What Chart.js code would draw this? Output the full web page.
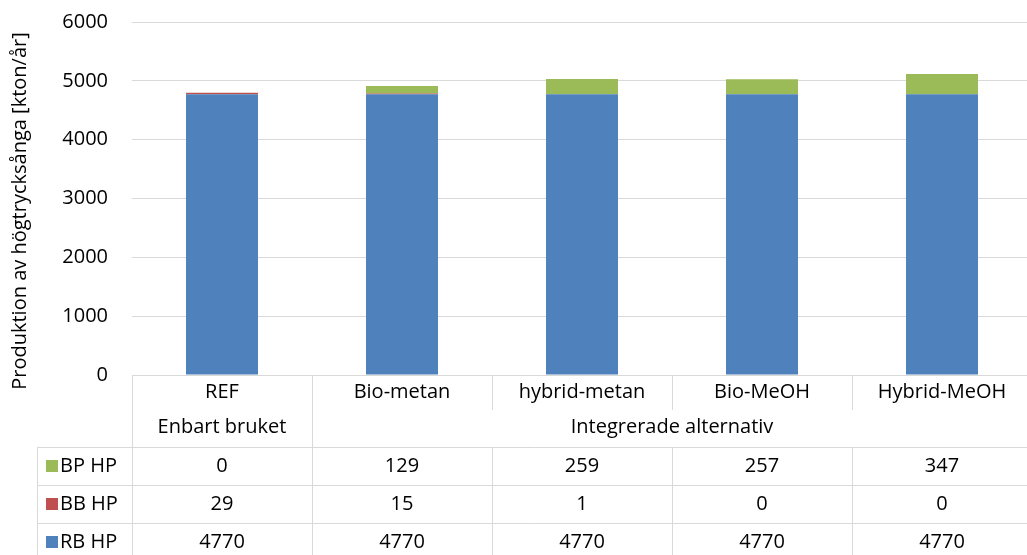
<!DOCTYPE html>
<html>
<head>
<meta charset="utf-8">
<script src="https://cdn.jsdelivr.net/npm/chart.js@4.4.1/dist/chart.umd.min.js"></script>
<style>
  html, body { margin: 0; padding: 0; background: #fff; overflow: hidden; }
  #wrap { width: 1035px; height: 555px; }
</style>
</head>
<body>
<div id="wrap"><canvas id="myChart" width="1035" height="555"></canvas></div>
<script>
// data
const categories = ["REF", "Bio-metan", "hybrid-metan", "Bio-MeOH", "Hybrid-MeOH"];
const groups = [
  { label: "Enbart bruket", from: 0, to: 0 },
  { label: "Integrerade alternativ", from: 1, to: 4 },
];
const rbHp = [4770, 4770, 4770, 4770, 4770];
const bbHp = [29, 15, 1, 0, 0];
const bpHp = [0, 129, 259, 257, 347];
const yTicks = [0, 1000, 2000, 3000, 4000, 5000, 6000];
const yTitle = "Produktion av högtrycksånga [kton/år]";

const FONT = "'Open Sans', 'Liberation Sans', sans-serif";
const FONT_SIZE = 20;
const LINE = "#d9d9d9";

// table rows, top to bottom as in the picture
const tableRows = [
  { label: "BP HP", color: "#9bbb59", values: bpHp },
  { label: "BB HP", color: "#c0504d", values: bbHp },
  { label: "RB HP", color: "#4f81bd", values: rbHp },
];

// draws the axis title and data table under the plot
const tablePlugin = {
  id: "dataTable",
  afterDraw(chart) {
    const ctx = chart.ctx;
    const a = chart.chartArea;
    const n = categories.length;
    const colW = (a.right - a.left) / n;
    const top = a.bottom;
    const catH = 35;
    const grpH = 37;
    const rowH = 38;
    const legLeft = 37;
    const rowTop = top + catH + grpH;

    ctx.save();
    ctx.strokeStyle = LINE;
    ctx.lineWidth = 1;
    const line = (x1, y1, x2, y2) => {
      ctx.beginPath();
      ctx.moveTo(x1, y1);
      ctx.lineTo(x2, y2);
      ctx.stroke();
    };

    // horizontal lines
    line(a.left, top + 0.5, a.right, top + 0.5);
    for (let r = 0; r <= tableRows.length; r++) {
      const y = Math.round(rowTop + r * rowH) + 0.5;
      line(legLeft, y, a.right, y);
    }
    // outer verticals
    line(a.left + 0.5, top, a.left + 0.5, rowTop + tableRows.length * rowH);
    line(legLeft + 0.5, rowTop, legLeft + 0.5, rowTop + tableRows.length * rowH);
    line(a.right - 0.5, top, a.right - 0.5, rowTop + tableRows.length * rowH);
    // inner verticals
    for (let i = 1; i < n; i++) {
      const x = Math.round(a.left + i * colW) + 0.5;
      const groupEdge = groups.some((g) => g.from === i);
      line(x, top, x, groupEdge ? rowTop : top + catH);
      line(x, rowTop, x, rowTop + tableRows.length * rowH);
    }

    ctx.fillStyle = "#000";
    ctx.font = FONT_SIZE + "px " + FONT;
    ctx.textAlign = "center";
    ctx.textBaseline = "middle";

    // category labels
    categories.forEach((c, i) => {
      ctx.fillText(c, a.left + (i + 0.5) * colW, top + catH / 2);
    });
    // group labels
    groups.forEach((g) => {
      const cx = a.left + ((g.from + g.to + 1) / 2) * colW;
      ctx.fillText(g.label, cx, top + catH + grpH / 2 - 1);
    });
    // data rows
    tableRows.forEach((row, r) => {
      const cy = rowTop + r * rowH + rowH / 2;
      row.values.forEach((v, i) => {
        ctx.fillText(String(v), a.left + (i + 0.5) * colW, cy);
      });
      ctx.fillStyle = row.color;
      ctx.fillRect(46, Math.round(cy - 6), 12, 12);
      ctx.fillStyle = "#000";
      ctx.textAlign = "left";
      ctx.fillText(row.label, 60, cy);
      ctx.textAlign = "center";
    });

    // y axis title
    ctx.translate(20, 211);
    ctx.rotate(-Math.PI / 2);
    ctx.fillText(yTitle, 0, 0);
    ctx.restore();
  },
};

const ctx = document.getElementById("myChart");

new Chart(ctx, {
  type: "bar",
  data: {
    labels: categories,
    datasets: [
      { label: "RB HP", data: rbHp, backgroundColor: "#4f81bd" },
      { label: "BB HP", data: bbHp, backgroundColor: "#c0504d" },
      { label: "BP HP", data: bpHp, backgroundColor: "#9bbb59" },
    ],
  },
  options: {
    responsive: false,
    animation: false,
    layout: { padding: { top: 22, right: 3, bottom: 0, left: 0 } },
    datasets: { bar: { barPercentage: 0.4, categoryPercentage: 1 } },
    plugins: { legend: { display: false }, tooltip: { enabled: false } },
    scales: {
      x: {
        stacked: true,
        grid: { display: false },
        border: { display: false },
        ticks: { display: false },
        afterFit(scale) { scale.height = 180; },
      },
      y: {
        stacked: true,
        min: yTicks[0],
        max: yTicks[yTicks.length - 1],
        afterBuildTicks(scale) { scale.ticks = yTicks.map((v) => ({ value: v })); },
        grid: { color: LINE, drawTicks: false },
        border: { display: false },
        ticks: {
          padding: 24,
          color: "#000",
          font: { family: FONT, size: FONT_SIZE },
          callback: (v) => String(v),
        },
        afterFit(scale) {
          scale.width = 132;
          scale.paddingTop = 0;
          scale.paddingBottom = 0;
        },
      },
    },
  },
  plugins: [tablePlugin],
});
</script>
</body>
</html>
